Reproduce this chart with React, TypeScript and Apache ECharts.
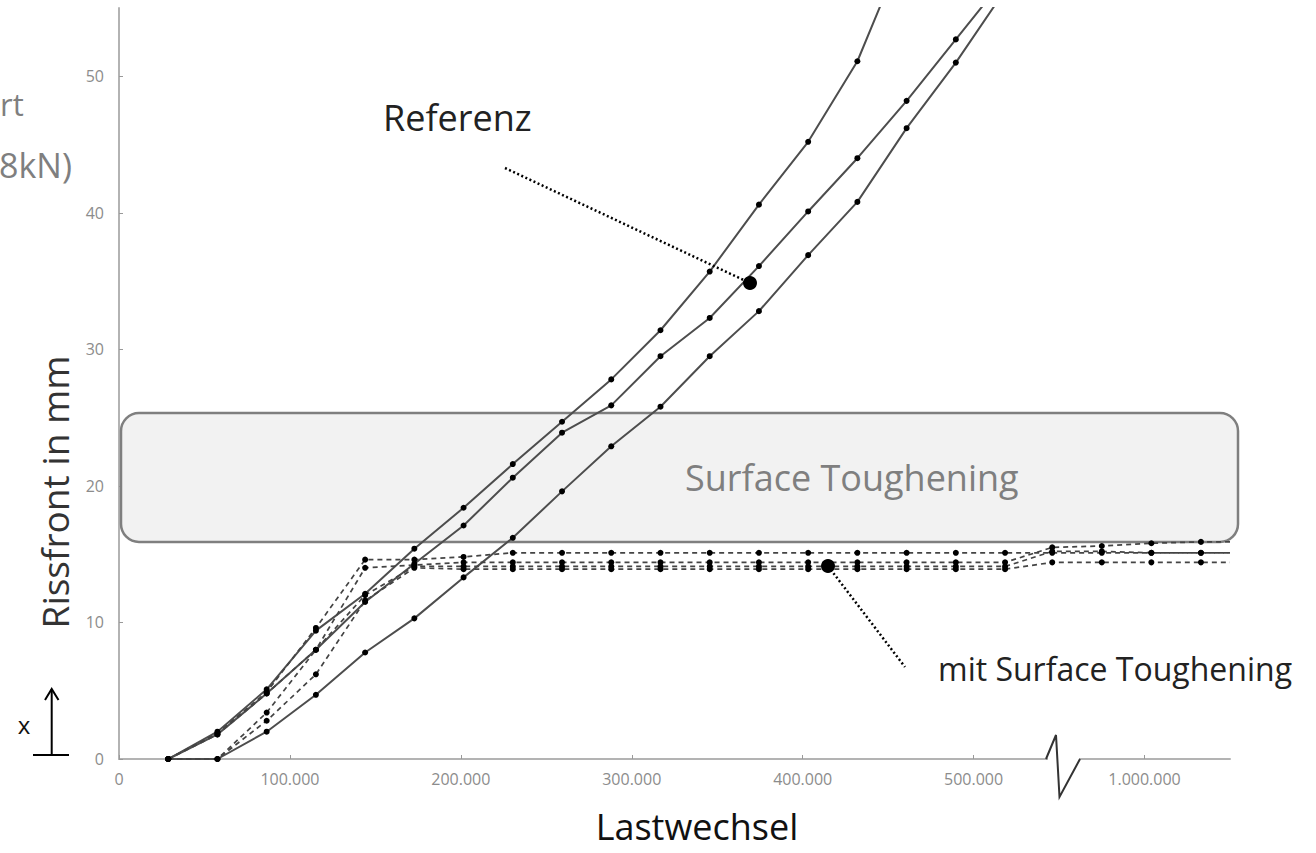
import { useEffect, useRef } from "react";
import * as echarts from "echarts";

// Lastwechsel (load cycles) of each measurement
const cycles = [
  28800, 57600, 86400, 115200, 144000, 172800, 201600, 230400, 259200, 288000,
  316800, 345600, 374400, 403200, 432000, 460800, 489600, 518400,
  946000, 975000, 1004000, 1033000,
];
// the dashed curves run on to the end of the axis
const axisEnd = 1050000;

// Referenz (solid) crack front in mm
const referenzA = [0, 2.0, 5.1, 9.4, 12.1, 15.4, 18.4, 21.6, 24.7, 27.8, 31.4, 35.7, 40.6, 45.2, 51.1, 59.8];
const referenzB = [0, 1.8, 4.8, 8.0, 11.5, 14.3, 17.1, 20.6, 23.9, 25.9, 29.5, 32.3, 36.1, 40.1, 44.0, 48.2, 52.7, 57.2];
const referenzC = [0, 0, 2.0, 4.7, 7.8, 10.3, 13.3, 16.2, 19.6, 22.9, 25.8, 29.5, 32.8, 36.9, 40.8, 46.2, 51.0, 56.3];

// mit Surface Toughening (dashed) crack front in mm
const toughD1 = [0, 1.9, 4.9, 9.6, 14.6, 14.6, 14.8, 15.1, 15.1, 15.1, 15.1, 15.1, 15.1, 15.1, 15.1, 15.1, 15.1, 15.1, 15.1, 15.1, 15.1, 15.1];
const toughD2 = [0, 1.8, 4.8, 8.0, 14.0, 14.2, 14.4, 14.4, 14.4, 14.4, 14.4, 14.4, 14.4, 14.4, 14.4, 14.4, 14.4, 14.4, 15.5, 15.6, 15.8, 15.9];
const toughD3 = [0, 0, 3.4, 8.0, 12.0, 14.1, 14.1, 14.1, 14.1, 14.1, 14.1, 14.1, 14.1, 14.1, 14.1, 14.1, 14.1, 14.1, 15.2, 15.2, 15.1, 15.1];
const toughD4 = [0, 0, 2.8, 6.2, 11.6, 14.0, 13.9, 13.9, 13.9, 13.9, 13.9, 13.9, 13.9, 13.9, 13.9, 13.9, 13.9, 13.9, 14.4, 14.4, 14.4, 14.4];

const xTickValues = [0, 100000, 200000, 300000, 400000, 500000, 1000000];
const yTickValues = [0, 10, 20, 30, 40, 50];

const FONT = '"Open Sans", "Noto Sans", sans-serif';

function fmtDE(v: number): string {
  return String(Math.round(v)).replace(/\B(?=(\d{3})+(?!\d))/g, ".");
}

function pairs(vals: number[]) {
  return vals.map((v, i) => [cycles[i], v]);
}

function solid(name: string, vals: number[]) {
  return {
    name,
    type: "line",
    data: pairs(vals),
    clip: true,
    symbol: "circle",
    symbolSize: 6,
    itemStyle: { color: "#000" },
    lineStyle: { color: "#4d4d4d", width: 2 },
    z: 3,
  };
}

function dashed(name: string, vals: number[]) {
  const data: any[] = pairs(vals);
  data.push({ value: [axisEnd, vals[vals.length - 1]], symbol: "none" });
  return {
    name,
    type: "line",
    data,
    clip: true,
    symbol: "circle",
    symbolSize: 6,
    itemStyle: { color: "#000" },
    lineStyle: { color: "#444", width: 1.7, type: [5, 4] },
    z: 3,
  };
}

function txt(text: string, x: number, y: number, size: number, fill: string, align = "left", extra: any = {}) {
  return {
    type: "text",
    x,
    y,
    z: 20,
    ...extra,
    style: {
      text,
      fontSize: size,
      fontFamily: FONT,
      fill,
      align,
      verticalAlign: "middle",
      textAlign: align,
      textVerticalAlign: "middle",
    },
  };
}

export default function App() {
  const ref = useRef<HTMLDivElement>(null);

  useEffect(() => {
    if (!ref.current) return;
    const chart = echarts.init(ref.current, undefined, { renderer: "svg" });
    const axisColor = "#b3b3b3";
    const labelColor = "#8c8c8c";
    chart.setOption({
      animation: false,
      backgroundColor: "#fff",
      grid: { left: 119, right: 86, top: 8, bottom: 94, containLabel: false },
      xAxis: {
        type: "value",
        min: 0,
        max: axisEnd,
        breaks: [{ start: 540000, end: 940000, gap: 0 }],
        breakArea: { show: false },
        axisLine: { show: true, lineStyle: { color: axisColor, width: 2 } },
        axisTick: { show: true, inside: true, length: 4, customValues: xTickValues, lineStyle: { color: "#999", width: 1 } },
        axisLabel: { show: true, customValues: xTickValues, formatter: (v: number) => fmtDE(v), color: labelColor, fontSize: 16, fontFamily: FONT, margin: 12 },
        splitLine: { show: false },
      },
      yAxis: {
        type: "value",
        min: 0,
        max: 55,
        interval: 10,
        axisLine: { show: true, lineStyle: { color: axisColor, width: 2 } },
        axisTick: { show: true, inside: true, length: 4, customValues: yTickValues, lineStyle: { color: "#999", width: 1 } },
        axisLabel: { show: true, customValues: yTickValues, color: labelColor, fontSize: 16, fontFamily: FONT, margin: 15 },
        splitLine: { show: false },
      },
      series: [
        solid("Referenz 1", referenzA),
        solid("Referenz 2", referenzB),
        solid("Referenz 3", referenzC),
        dashed("Surface Toughening 1", toughD1),
        dashed("Surface Toughening 2", toughD2),
        dashed("Surface Toughening 3", toughD3),
        dashed("Surface Toughening 4", toughD4),
      ],
      graphic: [
        {
          type: "rect",
          z: 1,
          shape: { x: 121, y: 413, width: 1117, height: 129, r: 18 },
          style: { fill: "#f2f2f2", stroke: "#7f7f7f", lineWidth: 2.5 },
        },
        { ...txt("Surface Toughening", 685, 477, 36, "#7f7f7f"), z: 1 },
        txt("Referenz", 383, 117, 36, "#222"),
        txt("mit Surface Toughening", 938, 668, 32, "#222"),
        txt("Lastwechsel", 697, 826, 36, "#111", "center"),
        txt("Rissfront in mm", 54, 492, 37, "#333", "center", { rotation: Math.PI / 2 }),
        txt("rt", 0, 104, 31, "#7f7f7f", "left"),
        txt("8kN)", 72, 165, 34, "#7f7f7f", "right"),
        txt("x", 24, 724, 24, "#111", "center"),
        // callout lines and markers
        {
          type: "line",
          z: 20,
          shape: { x1: 505, y1: 168, x2: 750, y2: 283 },
          style: { stroke: "#000", lineWidth: 2.5, lineDash: [2, 2.5] },
        },
        { type: "circle", z: 21, shape: { cx: 750, cy: 283, r: 7 }, style: { fill: "#000" } },
        {
          type: "line",
          z: 20,
          shape: { x1: 828, y1: 566, x2: 905, y2: 667 },
          style: { stroke: "#000", lineWidth: 2.5, lineDash: [2, 2.5] },
        },
        { type: "circle", z: 21, shape: { cx: 828, cy: 566, r: 7 }, style: { fill: "#000" } },
        // x arrow
        { type: "line", z: 20, shape: { x1: 51.7, y1: 689, x2: 51.7, y2: 755 }, style: { stroke: "#000", lineWidth: 2 } },
        { type: "polyline", z: 20, shape: { points: [[45, 700], [51.7, 689], [58.5, 700]] }, style: { stroke: "#000", lineWidth: 2, fill: "none" } },
        { type: "line", z: 20, shape: { x1: 33, y1: 755, x2: 69, y2: 755 }, style: { stroke: "#000", lineWidth: 2 } },
        // axis break glyph
        { type: "rect", z: 18, shape: { x: 1048, y: 754, width: 31, height: 10 }, style: { fill: "#fff" } },
        {
          type: "polyline",
          z: 19,
          shape: { points: [[1046, 759], [1056, 735], [1059.5, 797], [1080, 759]] },
          style: { stroke: "#333", lineWidth: 2, fill: "none" },
        },
      ],
    });
    return () => chart.dispose();
  }, []);

  return (
    <div
      ref={ref}
      style={{ position: "fixed", left: 0, top: 0, width: 1316, height: 853, background: "#fff" }}
    />
  );
}
